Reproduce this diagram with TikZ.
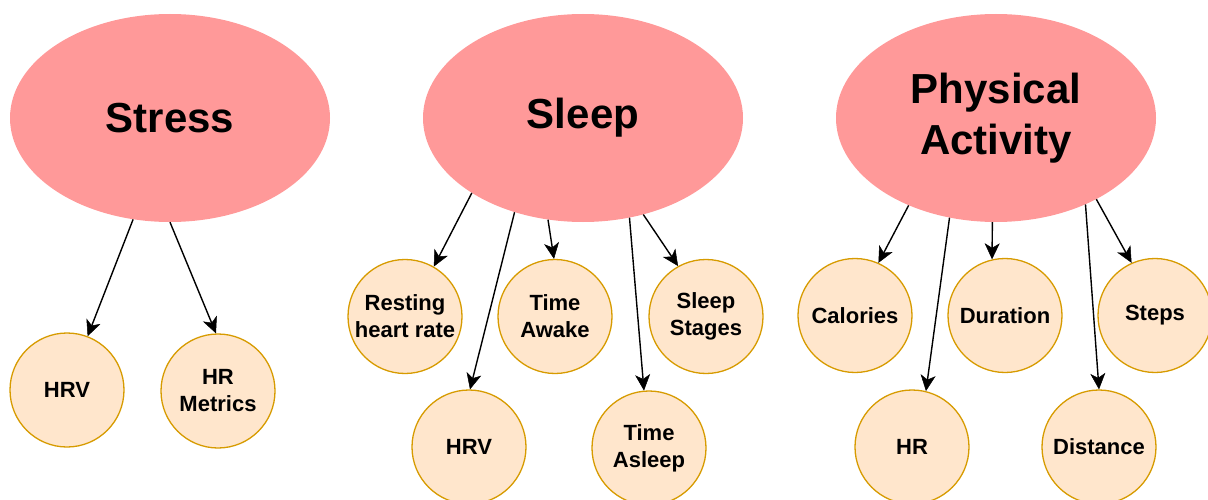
\documentclass[tikz,border=0pt]{standalone}
\usepackage{fontspec}
\setmainfont{Liberation Sans}
\usetikzlibrary{arrows.meta,shapes.geometric}

\definecolor{topicfill}{HTML}{FF9999}
\definecolor{itemfill}{HTML}{FFE6CC}
\definecolor{itemline}{HTML}{D79B00}

\tikzset{
  topic/.style={ellipse, fill=topicfill, draw=none, inner sep=0pt,
    minimum width=320pt, minimum height=208pt, align=center,
    font=\fontsize{42}{51}\selectfont\bfseries},
  item/.style={circle, fill=itemfill, draw=itemline, line width=1.3pt,
    inner sep=0pt, minimum size=114pt, align=center,
    font=\fontsize{22}{27}\selectfont\bfseries},
  tipshape/.tip={Stealth[length=16pt, width=15pt, inset=4.5pt, line width=0.5pt]},
  link/.style={draw=black, line width=1.4pt, arrows={-tipshape}}
}

\begin{document}
\begin{tikzpicture}[x=1pt, y=-1pt]
  \useasboundingbox (0,0) rectangle (1208,500);

  % topics
  \node[topic] (stress) at (170,118) {Stress};
  \node[topic] (sleep)  at (583,118) {Sleep};
  \node[topic] (phys)   at (996,118) {Physical\\Activity};

  % stress measures
  \node[item] (shrv) at (67,390)  {HRV};
  \node[item] (shrm) at (218,391) {HR\\Metrics};

  % sleep measures
  \node[item] (rest)   at (405,316.5) {Resting\\heart rate};
  \node[item] (awake)  at (555,316.5) {Time\\Awake};
  \node[item] (stages) at (706,316.5) {Sleep\\Stages};
  \node[item] (slhrv)  at (469,447)   {HRV};
  \node[item] (asleep) at (649,448)   {Time\\Asleep};

  % physical activity measures
  \node[item] (cal)   at (855,315.5)  {Calories};
  \node[item] (dur)   at (1005,315.5) {Duration};
  \node[item] (steps) at (1155,315.5) {Steps};
  \node[item] (hr)    at (912,447)    {HR};
  \node[item] (dist)  at (1099,447)   {Distance};

  % connectors
  \draw[link] (stress.250) -- (shrv.69);
  \draw[link] (stress.270) -- (shrm.92);

  \draw[link] (sleep.214.5) -- (rest.60);
  \draw[link] (sleep.234.8) -- (slhrv.89);
  \draw[link] (sleep.251.6) -- (awake.91);
  \draw[link] (sleep.295.7) -- (asleep.95);
  \draw[link] (sleep.302.3) -- (stages.119);

  \draw[link] (phys.225.3) -- (cal.66);
  \draw[link] (phys.245.7) -- (hr.76);
  \draw[link] (phys.268)   -- (dur.103);
  \draw[link] (phys.316.6) -- (dist.90);
  \draw[link] (phys.321.8) -- (steps.114);
\end{tikzpicture}
\end{document}
